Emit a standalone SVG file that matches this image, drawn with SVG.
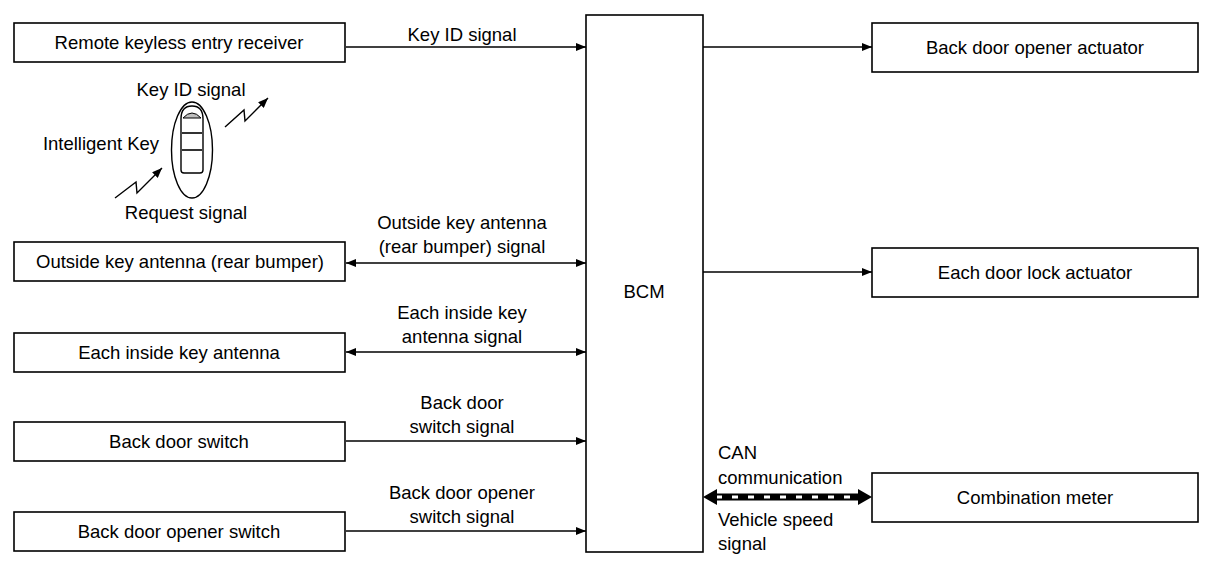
<svg xmlns="http://www.w3.org/2000/svg" width="1216" height="582" viewBox="0 0 1216 582">
<style>
  text { font-family: "Liberation Sans", Arial, sans-serif; font-size: 18.5px; fill: #000; }
  .c { text-anchor: middle; }
  .box { fill: #fff; stroke: #000; stroke-width: 1.6; }
  .ln { fill: none; stroke: #000; stroke-width: 1.4; }
</style>
<defs>
  <marker id="ah" viewBox="0 0 10 8" refX="10" refY="4" markerWidth="10" markerHeight="8" markerUnits="userSpaceOnUse" orient="auto-start-reverse">
    <path d="M0,0 L10,4 L0,8 Z" fill="#000"/>
  </marker>
</defs>
<rect width="1216" height="582" fill="#fff"/>

<g id="connectors">
  <line class="ln" x1="346" y1="47" x2="586" y2="47" marker-end="url(#ah)"/>
  <line class="ln" x1="703" y1="47" x2="872" y2="47" marker-end="url(#ah)"/>
  <line class="ln" x1="346" y1="263" x2="586" y2="263" marker-start="url(#ah)" marker-end="url(#ah)"/>
  <line class="ln" x1="346" y1="352" x2="586" y2="352" marker-start="url(#ah)" marker-end="url(#ah)"/>
  <line class="ln" x1="346" y1="441" x2="586" y2="441" marker-end="url(#ah)"/>
  <line class="ln" x1="346" y1="531" x2="586" y2="531" marker-end="url(#ah)"/>
  <line class="ln" x1="703" y1="272" x2="872" y2="272" marker-end="url(#ah)"/>
  <line x1="712" y1="497" x2="863" y2="497" stroke="#000" stroke-width="7"/>
  <line x1="716" y1="497" x2="860" y2="497" stroke="#fff" stroke-width="3" stroke-dasharray="6,10"/>
  <path d="M703,497 L717,489 L717,505 Z" fill="#000"/>
  <path d="M872,497 L858,489 L858,505 Z" fill="#000"/>
  <text x="462" y="41" class="c">Key ID signal</text>
  <text x="462" y="229" class="c">Outside key antenna</text>
  <text x="462" y="253" class="c">(rear bumper) signal</text>
  <text x="462" y="319" class="c">Each inside key</text>
  <text x="462" y="343" class="c">antenna signal</text>
  <text x="462" y="409" class="c">Back door</text>
  <text x="462" y="433" class="c">switch signal</text>
  <text x="462" y="499" class="c">Back door opener</text>
  <text x="462" y="523" class="c">switch signal</text>
  <text x="718" y="459">CAN</text>
  <text x="718" y="484">communication</text>
  <text x="718" y="526">Vehicle speed</text>
  <text x="718" y="550">signal</text>
</g>

<g id="rke">
  <rect class="box" x="14" y="23" width="331" height="39"/>
  <text x="179" y="49" class="c">Remote keyless entry receiver</text>
</g>
<g id="intelligent-key">
  <ellipse cx="192" cy="150" rx="20.5" ry="48" fill="none" stroke="#000" stroke-width="1.4"/>
  <path d="M181,170 L181,119 Q181,106 192,106 Q203,106 203,119 L203,170 Q203,173 200,173 L184,173 Q181,173 181,170 Z" fill="none" stroke="#000" stroke-width="1.4"/>
  <path d="M183,118 Q192,108 201,118 Z" fill="#000" fill-opacity="0.25" stroke="#000" stroke-width="1"/>
  <line x1="182" y1="133" x2="202" y2="133" stroke="#000" stroke-width="1.6"/>
  <line x1="182" y1="150" x2="202" y2="150" stroke="#000" stroke-width="1.6"/>
  <path class="ln" d="M225,127 L244,110 L245,121 L268,98" stroke-width="1.8" marker-end="url(#ah)"/>
  <path class="ln" d="M115,198 L136,182 L137,193 L162,168" stroke-width="1.8" marker-end="url(#ah)"/>
  <text x="191" y="96" class="c">Key ID signal</text>
  <text x="101" y="150" class="c">Intelligent Key</text>
  <text x="186" y="219" class="c">Request signal</text>
</g>
<g id="outside-antenna">
  <rect class="box" x="14" y="242" width="331" height="39"/>
  <text x="180" y="268" class="c">Outside key antenna (rear bumper)</text>
</g>
<g id="inside-antenna">
  <rect class="box" x="14" y="333" width="331" height="39"/>
  <text x="179" y="359" class="c">Each inside key antenna</text>
</g>
<g id="back-door-switch">
  <rect class="box" x="14" y="422" width="331" height="39"/>
  <text x="179" y="448" class="c">Back door switch</text>
</g>
<g id="back-door-opener-switch">
  <rect class="box" x="14" y="512" width="331" height="39"/>
  <text x="179" y="538" class="c">Back door opener switch</text>
</g>
<g id="bcm">
  <rect class="box" x="586" y="15" width="117" height="537"/>
  <text x="644" y="298" class="c">BCM</text>
</g>
<g id="back-door-opener-actuator">
  <rect class="box" x="872" y="23" width="326" height="49"/>
  <text x="1035" y="54" class="c">Back door opener actuator</text>
</g>
<g id="door-lock-actuator">
  <rect class="box" x="872" y="248" width="326" height="49"/>
  <text x="1035" y="279" class="c">Each door lock actuator</text>
</g>
<g id="combination-meter">
  <rect class="box" x="872" y="473" width="326" height="49"/>
  <text x="1035" y="504" class="c">Combination meter</text>
</g>
</svg>
